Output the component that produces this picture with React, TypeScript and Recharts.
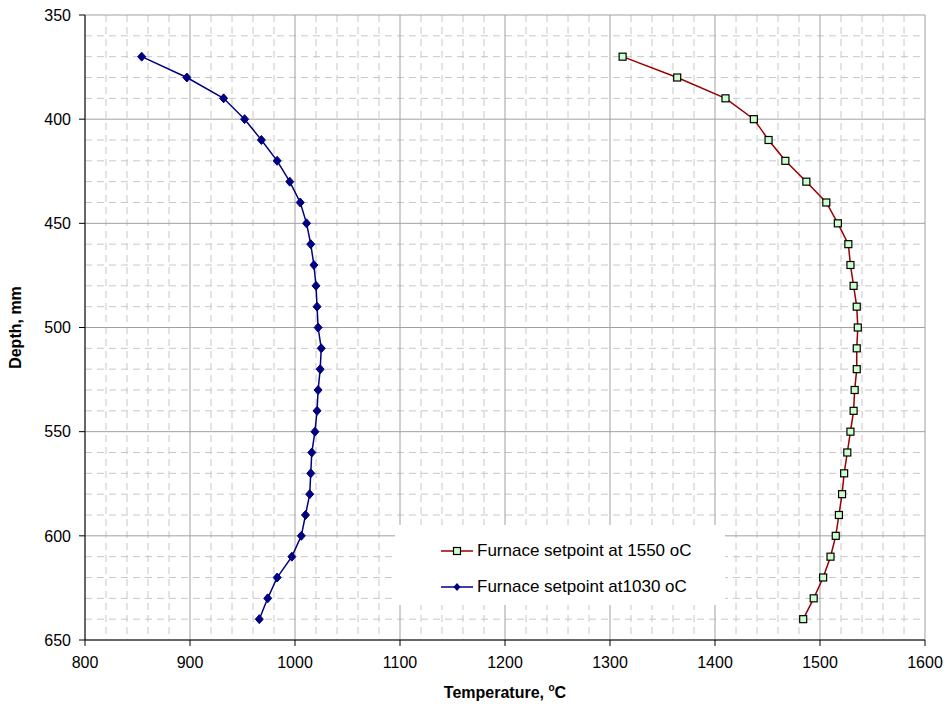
import React from 'react';
import { ScatterChart, Scatter, XAxis, YAxis, CartesianGrid, Legend, Label } from 'recharts';

const depths = [370, 380, 390, 400, 410, 420, 430, 440, 450, 460, 470, 480, 490, 500, 510, 520, 530, 540, 550, 560, 570, 580, 590, 600, 610, 620, 630, 640];
const temp1550 = [1312, 1364, 1410, 1437, 1451, 1467, 1487, 1506, 1517, 1527, 1529, 1532, 1535, 1536, 1535, 1535, 1533, 1532, 1529, 1526, 1523, 1521, 1518, 1515, 1510, 1503, 1494, 1484];
const temp1030 = [854, 897, 932, 952, 968, 983, 995, 1005, 1011, 1015, 1018, 1020, 1021, 1022, 1025, 1024, 1022, 1021, 1019, 1016, 1015, 1014, 1010, 1006, 997, 983, 974, 966];

const xTicks = [800, 900, 1000, 1100, 1200, 1300, 1400, 1500, 1600];
const yTicks = [350, 400, 450, 500, 550, 600, 650];
const xMinorTicks = [820, 840, 860, 880, 920, 940, 960, 980, 1020, 1040, 1060, 1080, 1120, 1140, 1160, 1180, 1220, 1240, 1260, 1280, 1320, 1340, 1360, 1380, 1420, 1440, 1460, 1480, 1520, 1540, 1560, 1580];
const yMinorTicks = [360, 370, 380, 390, 410, 420, 430, 440, 460, 470, 480, 490, 510, 520, 530, 540, 560, 570, 580, 590, 610, 620, 630, 640];

const X_DOMAIN = [800, 1600];
const Y_DOMAIN = [350, 650];

const series1550 = depths.map((d, i) => ({ depth: d, temp: temp1550[i] }));
const series1030 = depths.map((d, i) => ({ depth: d, temp: temp1030[i] }));

const RED = '#990000';
const NAVY = '#000080';
const FONT = '"Liberation Sans", Arial, sans-serif';

// minor grid positions go through the axis scale when it is available
const minorX = (props: any) => {
  const { xAxis, offset } = props;
  if (xAxis && typeof xAxis.scale === 'function') return xMinorTicks.map(t => xAxis.scale(t));
  return xMinorTicks.map(t => offset.left + ((t - X_DOMAIN[0]) / (X_DOMAIN[1] - X_DOMAIN[0])) * offset.width);
};

const minorY = (props: any) => {
  const { yAxis, offset } = props;
  if (yAxis && typeof yAxis.scale === 'function') return yMinorTicks.map(t => yAxis.scale(t));
  return yMinorTicks.map(t => offset.top + ((t - Y_DOMAIN[0]) / (Y_DOMAIN[1] - Y_DOMAIN[0])) * offset.height);
};

const SquareDot = (props: any) => {
  const { cx, cy } = props;
  if (cx == null || cy == null) return null;
  return <rect x={cx - 3.5} y={cy - 3.5} width={7} height={7} fill="#ccffcc" stroke="#000" strokeWidth={1.2} />;
};

const DiamondDot = (props: any) => {
  const { cx, cy } = props;
  if (cx == null || cy == null) return null;
  return <path d={`M${cx},${cy - 4.5}L${cx + 4},${cy}L${cx},${cy + 4.5}L${cx - 4},${cy}Z`} fill={NAVY} stroke={NAVY} />;
};

const LegendBox = () => {
  const items = [
    { name: 'Furnace setpoint at 1550 oC', color: RED, square: true },
    { name: 'Furnace setpoint at1030 oC', color: NAVY, square: false },
  ];
  return (
    <div style={{ position: 'relative', background: '#fff', width: 330, height: 80, fontFamily: FONT, fontSize: 17, color: '#000' }}>
      {items.map((it, i) => (
        <div key={i} style={{ position: 'absolute', left: 46, top: 14 + i * 36, height: 24, display: 'flex', alignItems: 'center', whiteSpace: 'nowrap' }}>
          <svg width={32} height={12} style={{ marginRight: 4 }}>
            <line x1={0} y1={6} x2={32} y2={6} stroke={it.color} strokeWidth={1.5} />
            {it.square ? (
              <rect x={12.5} y={2.5} width={7} height={7} fill="#ccffcc" stroke="#000" strokeWidth={1.2} />
            ) : (
              <path d="M16,2 L19.5,6 L16,10 L12.5,6 Z" fill={NAVY} />
            )}
          </svg>
          <span>{it.name}</span>
        </div>
      ))}
    </div>
  );
};

const YTitle = (props: any) => {
  const { viewBox } = props;
  const cx = viewBox.x + 15;
  const cy = viewBox.y + viewBox.height / 2;
  return (
    <text x={cx} y={cy} transform={`rotate(-90, ${cx}, ${cy})`} textAnchor="middle" dominantBaseline="central" fontFamily={FONT} fontSize={16} fontWeight="bold" fill="#000">
      Depth, mm
    </text>
  );
};

const XTitle = (props: any) => {
  const { viewBox } = props;
  const cx = viewBox.x + viewBox.width / 2;
  const cy = viewBox.y + 58;
  return (
    <text x={cx} y={cy} textAnchor="middle" fontFamily={FONT} fontSize={16} fontWeight="bold" fill="#000">
      Temperature, <tspan fontSize={10} dy={-7}>o</tspan><tspan dy={7}>C</tspan>
    </text>
  );
};

export default function App() {
  return (
    <div style={{ position: 'absolute', left: 0, top: 0, width: 945, height: 713, background: '#fff' }}>
      <ScatterChart width={945} height={713} margin={{ top: 15, right: 20, bottom: 13, left: 0 }}>
        <CartesianGrid
          stroke="#c8c8c8"
          strokeDasharray="7 5"
          verticalCoordinatesGenerator={minorX}
          horizontalCoordinatesGenerator={minorY}
        />
        <CartesianGrid stroke="#a0a0a0" />
        <XAxis
          type="number"
          dataKey="temp"
          domain={X_DOMAIN}
          ticks={xTicks}
          interval={0}
          height={60}
          tickSize={6}
          tickMargin={11}
          axisLine={{ stroke: '#000' }}
          tickLine={{ stroke: '#000' }}
          tick={{ fill: '#000', fontFamily: FONT, fontSize: 16 }}
          allowDataOverflow
        >
          <Label content={<XTitle />} />
        </XAxis>
        <YAxis
          type="number"
          dataKey="depth"
          domain={Y_DOMAIN}
          ticks={yTicks}
          interval={0}
          reversed
          width={85}
          tickSize={6}
          tickMargin={8}
          axisLine={{ stroke: '#000' }}
          tickLine={{ stroke: '#000' }}
          tick={{ fill: '#000', fontFamily: FONT, fontSize: 16 }}
          allowDataOverflow
        >
          <Label content={<YTitle />} />
        </YAxis>
        <Scatter
          name="Furnace setpoint at 1550 oC"
          data={series1550}
          line={{ stroke: RED, strokeWidth: 1.5 }}
          shape={<SquareDot />}
          isAnimationActive={false}
        />
        <Scatter
          name="Furnace setpoint at1030 oC"
          data={series1030}
          line={{ stroke: NAVY, strokeWidth: 1.5 }}
          shape={<DiamondDot />}
          isAnimationActive={false}
        />
        <Legend
          layout="vertical"
          align="center"
          verticalAlign="middle"
          content={<LegendBox />}
          wrapperStyle={{ position: 'absolute', left: 395, top: 525, width: 330, height: 80 }}
        />
      </ScatterChart>
    </div>
  );
}
